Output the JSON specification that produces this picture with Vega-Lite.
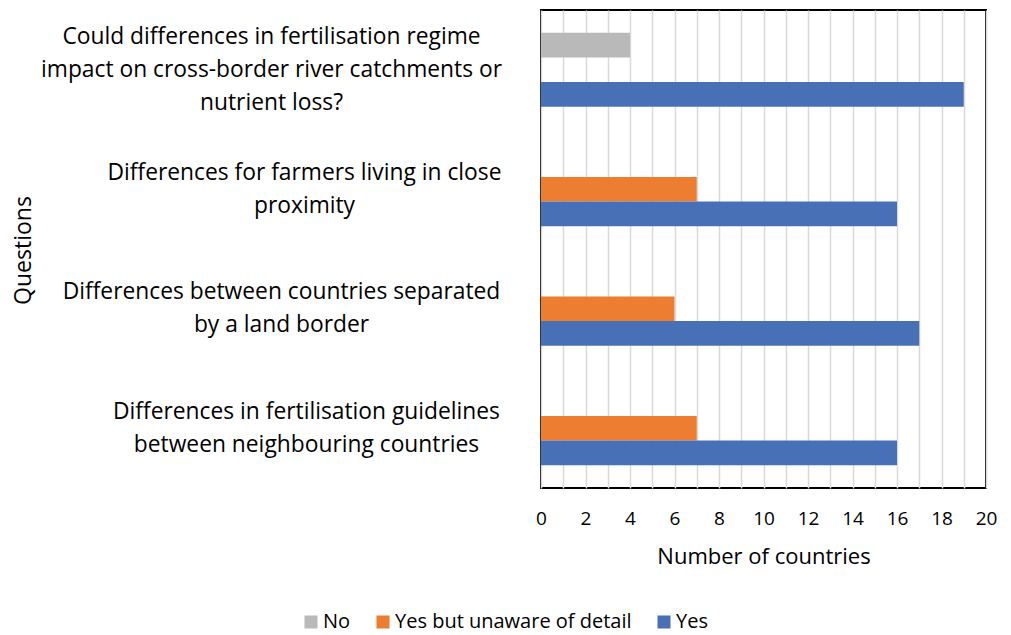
{
  "$schema": "https://vega.github.io/schema/vega-lite/v6.json",
  "width": 445,
  "height": 478,
  "autosize": {"type": "none"},
  "padding": {"left": 541, "top": 10, "right": 25, "bottom": 147},
  "background": "white",
  "config": {
    "font": "Open Sans",
    "view": {"stroke": "#000000", "strokeWidth": 2}
  },
  "data": {
    "values": [
      {"question": "Could differences in fertilisation regime|impact on cross-border river catchments or|nutrient loss?", "response": "No", "countries": 4},
      {"question": "Could differences in fertilisation regime|impact on cross-border river catchments or|nutrient loss?", "response": "Yes", "countries": 19},
      {"question": "Differences for farmers living in close|proximity", "response": "Yes but unaware of detail", "countries": 7},
      {"question": "Differences for farmers living in close|proximity", "response": "Yes", "countries": 16},
      {"question": "Differences between countries separated|by a land border", "response": "Yes but unaware of detail", "countries": 6},
      {"question": "Differences between countries separated|by a land border", "response": "Yes", "countries": 17},
      {"question": "Differences in fertilisation guidelines|between neighbouring countries", "response": "Yes but unaware of detail", "countries": 7},
      {"question": "Differences in fertilisation guidelines|between neighbouring countries", "response": "Yes", "countries": 16}
    ]
  },
  "mark": {"type": "bar"},
  "encoding": {
    "y": {
      "field": "question",
      "type": "nominal",
      "sort": null,
      "scale": {"paddingInner": 0.38, "paddingOuter": 0.19},
      "axis": {
        "title": "Questions",
        "titleFontSize": 23,
        "titleFontWeight": "normal",
        "titleColor": "#000000",
        "titleX": -518,
        "titleY": 240,
        "titleAlign": "center",
        "titleBaseline": "middle",
        "titleAngle": -90,
        "domain": false,
        "ticks": false,
        "grid": false,
        "labelExpr": "split(datum.label, '|')",
        "labelAlign": "center",
        "labelBaseline": "middle",
        "labelFontSize": 22.8,
        "labelLineHeight": 33,
        "labelColor": "#000000",
        "labelLimit": 1000,
        "labelPadding": {
          "condition": [
            {"test": "indexof(datum.value, 'Could') >= 0", "value": 270},
            {"test": "indexof(datum.value, 'farmers') >= 0", "value": 237},
            {"test": "indexof(datum.value, 'separated') >= 0", "value": 260}
          ],
          "value": 235
        },
        "labelOffset": {
          "condition": {"test": "indexof(datum.value, 'Could') >= 0", "value": -33},
          "value": -16.5
        }
      }
    },
    "yOffset": {
      "field": "response",
      "type": "nominal",
      "sort": ["No", "Yes but unaware of detail", "Yes"],
      "scale": {"paddingInner": 0, "paddingOuter": 0}
    },
    "x": {
      "field": "countries",
      "type": "quantitative",
      "scale": {"domain": [0, 20], "nice": false},
      "axis": {
        "title": "Number of countries",
        "titleFontSize": 22,
        "titleFontWeight": "normal",
        "titleColor": "#000000",
        "titleBaseline": "middle",
        "titleY": 68,
        "values": [0, 1, 2, 3, 4, 5, 6, 7, 8, 9, 10, 11, 12, 13, 14, 15, 16, 17, 18, 19, 20],
        "labelExpr": "datum.value % 2 == 0 ? datum.label : ''",
        "labelFontSize": 19,
        "labelColor": "#000000",
        "labelPadding": 21,
        "labelFlush": false,
        "labelOverlap": false,
        "domain": false,
        "ticks": false,
        "grid": true,
        "gridColor": "#D9D9D9",
        "gridWidth": 1.5
      }
    },
    "color": {
      "field": "response",
      "type": "nominal",
      "scale": {
        "domain": ["No", "Yes but unaware of detail", "Yes"],
        "range": ["#B9B9B9", "#ED7D31", "#4870B6"]
      },
      "legend": {
        "orient": "none",
        "direction": "horizontal",
        "legendX": -240,
        "legendY": 602,
        "title": null,
        "symbolType": "square",
        "symbolSize": 170,
        "symbolStrokeWidth": 0,
        "labelFontSize": 20,
        "labelColor": "#000000",
        "labelOffset": 2,
        "columnPadding": 22,
        "labelLimit": 400
      }
    }
  }
}
